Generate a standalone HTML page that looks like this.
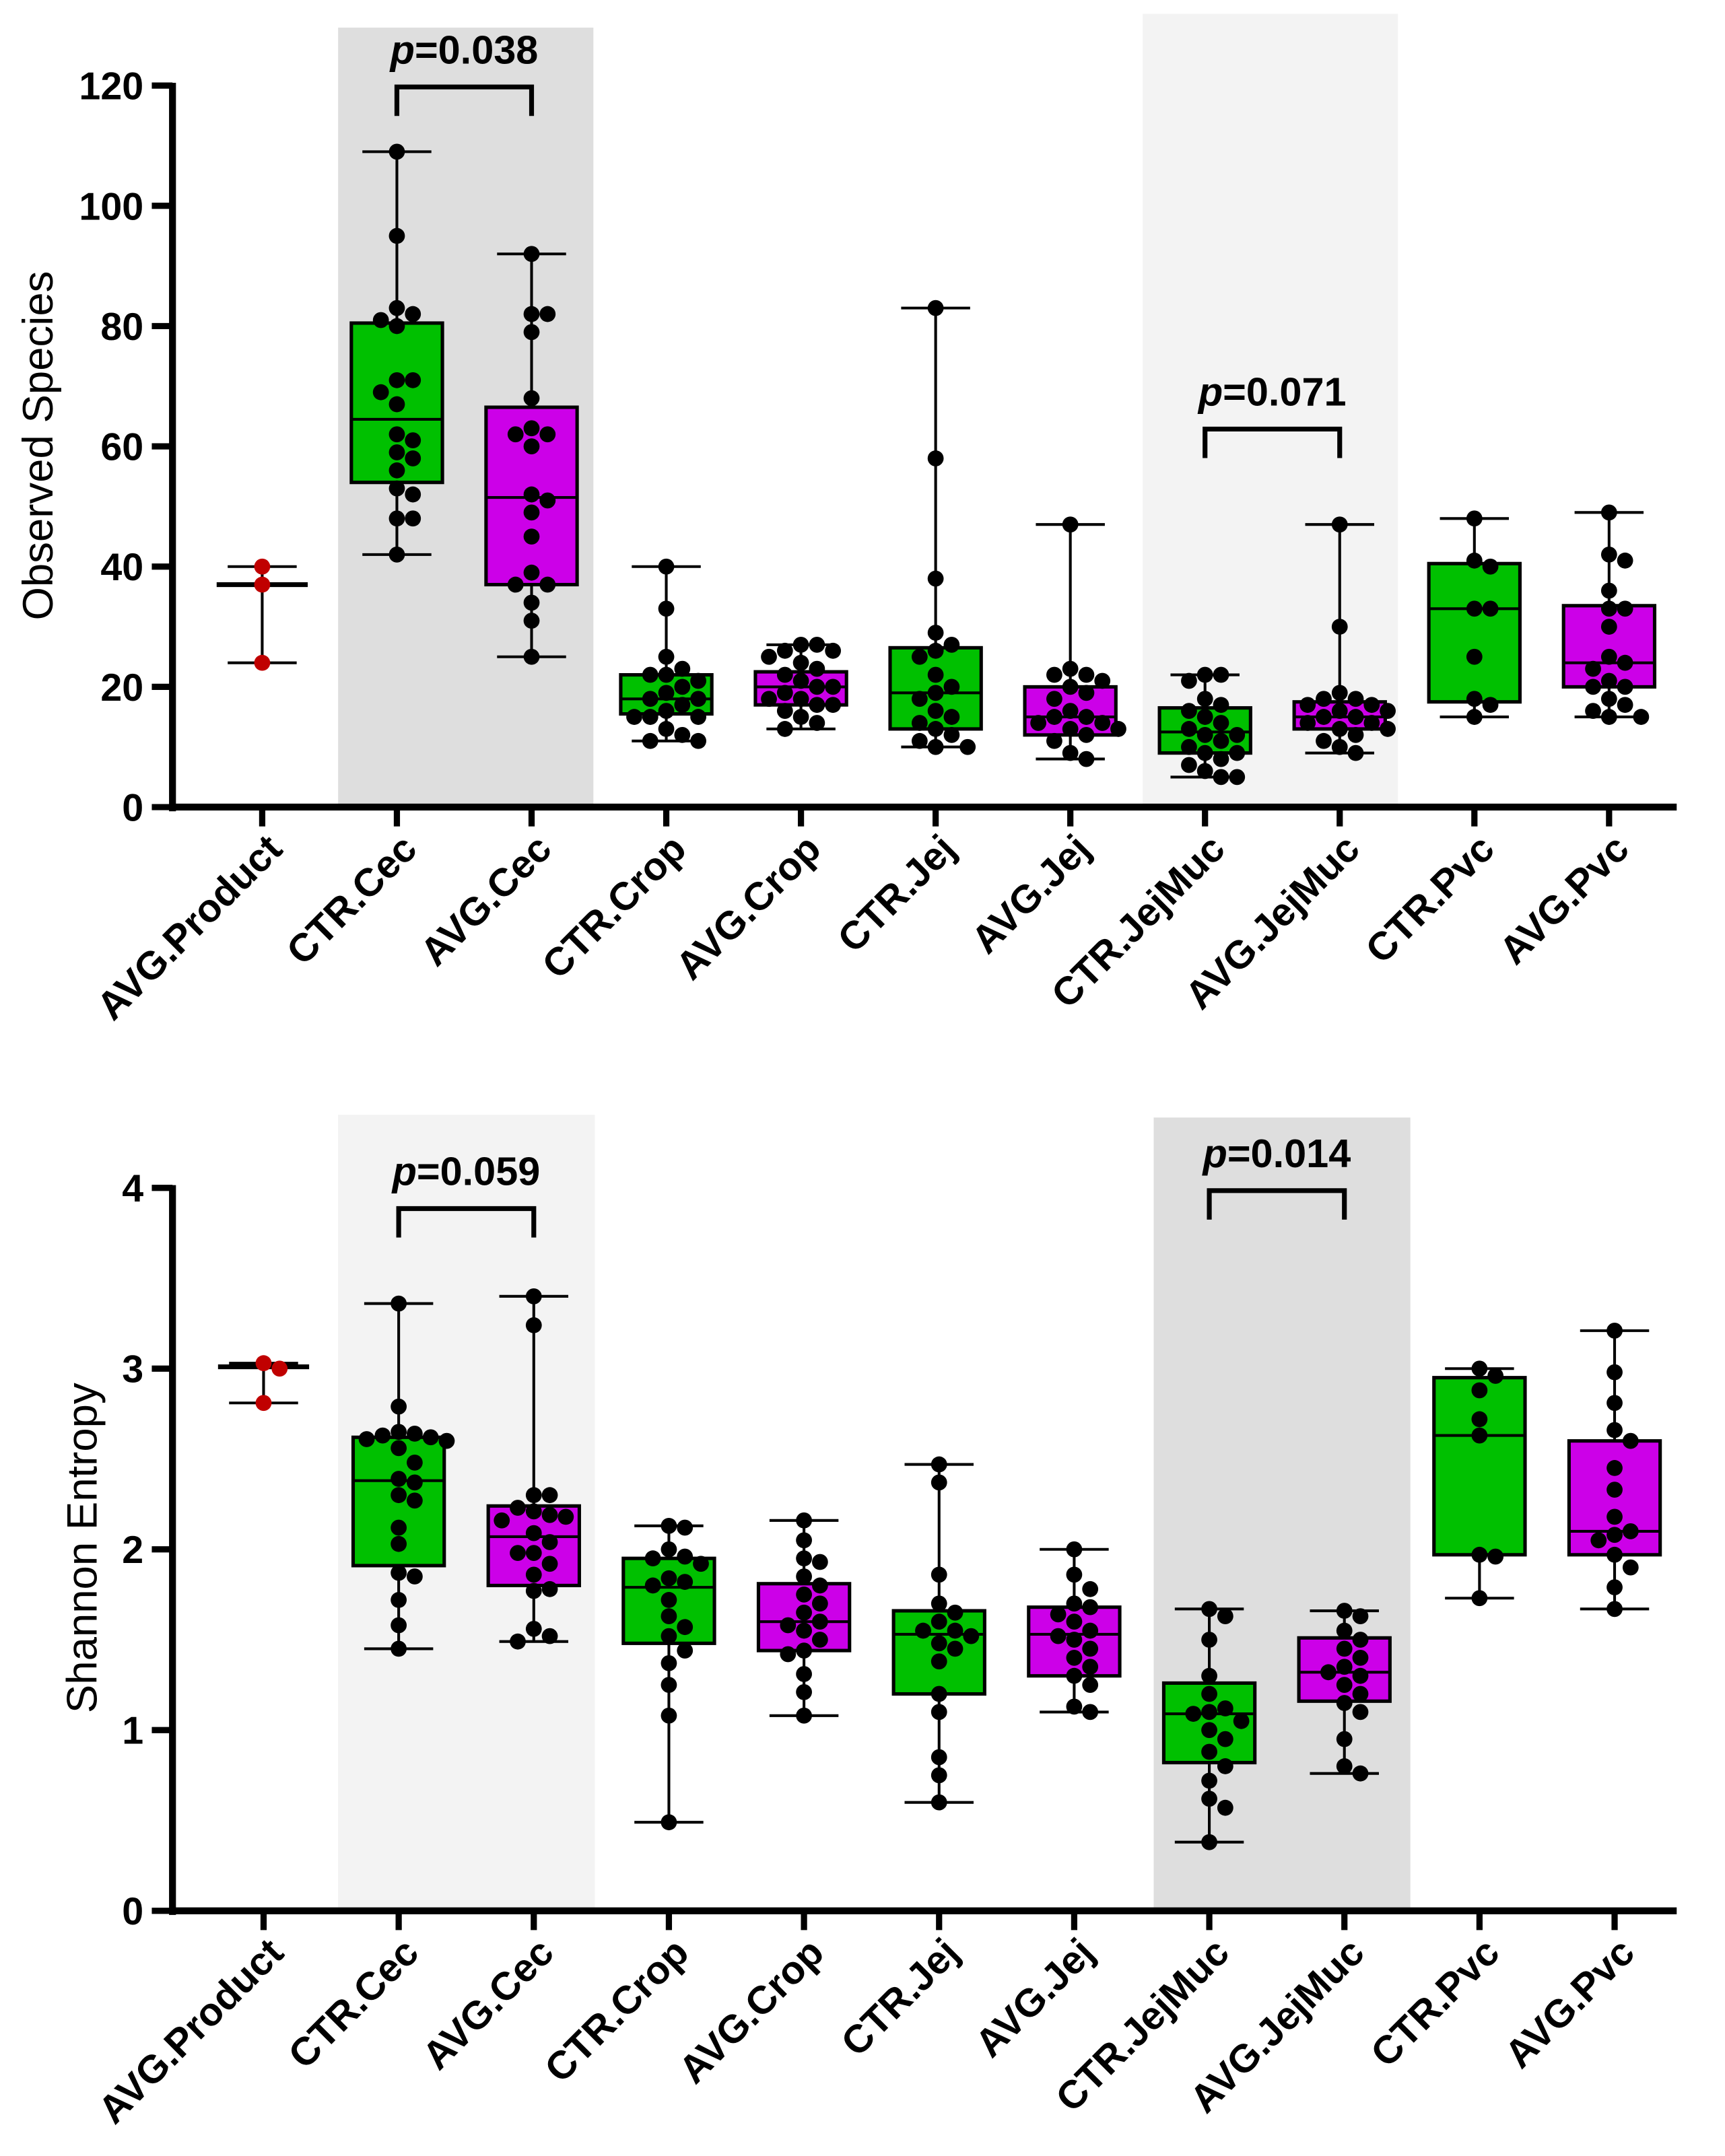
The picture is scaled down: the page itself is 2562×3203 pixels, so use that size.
<!DOCTYPE html>
<html><head><meta charset="utf-8"><style>
html,body{margin:0;padding:0;background:#fff;}
svg{display:block;font-family:"Liberation Sans",Arial,sans-serif;}
</style></head><body>
<svg id="chart" width="2562" height="3203" viewBox="0 0 1250 1562.7" xmlns="http://www.w3.org/2000/svg"></svg>
<script>
const categories = ["AVG.Product","CTR.Cec","AVG.Cec","CTR.Crop","AVG.Crop","CTR.Jej","AVG.Jej","CTR.JejMuc","AVG.JejMuc","CTR.Pvc","AVG.Pvc"];
const groupColor = ["none","#00c000","#cc00e8","#00c000","#cc00e8","#00c000","#cc00e8","#00c000","#cc00e8","#00c000","#cc00e8"];
// Observed species: [min,q1,median,q3,max]
const obsStats = [
 [24,24,37,40,40],[42,54,64.5,80.5,109],[25,37,51.5,66.5,92],[11,15.5,18,22,40],[13,17,20,22.5,27],
 [10,13,19,26.5,83],[8,12,15,20,47],[5,9,12.5,16.5,22],[9,13,15,17.5,47],[15,17.5,33,40.5,48],[15,20,24,33.5,49]];
const obsPoints = [
 [40,37,24],
 [109,95,83,82,81,80,71,71,69,67,62,61,59,58,56,53,52,48,48,42],
 [92,82,82,79,68,63,62,62,60,52,51,49,45,39,37,37,34,31,25],
 [40,33,25,23,22,22,21,20,19,18,18,17,16,15,15,15,13,12,11,11],
 [27,27,26,26,25,24,23,22,21,20,20,19,18,18,17,17,16,15,14,13],
 [83,58,38,29,27,26,25,22,20,19,18,16,15,14,13,12,11,10,10],
 [47,23,22,22,21,20,19,18,16,15,15,14,14,13,13,12,11,9,8],
 [22,22,21,18,17,16,15,14,13,12,12,11,10,9,9,8,7,6,5,5],
 [47,30,19,18,18,17,17,16,16,15,15,14,14,13,13,12,11,10,9],
 [48,41,40,33,33,25,18,17,15],
 [49,42,41,36,33,33,30,25,24,23,21,20,20,18,17,16,15,15]];
const obsTicks = [0,20,40,60,80,100,120];
// Shannon entropy
const shStats = [
 [2.81,2.81,3.01,3.03,3.03],[1.45,1.91,2.38,2.62,3.36],[1.49,1.80,2.07,2.24,3.40],[0.49,1.48,1.79,1.95,2.13],[1.08,1.44,1.60,1.81,2.16],
 [0.60,1.20,1.53,1.66,2.47],[1.10,1.30,1.53,1.68,2.00],[0.38,0.82,1.09,1.26,1.67],[0.76,1.16,1.32,1.51,1.66],[1.73,1.97,2.63,2.95,3.00],[1.67,1.97,2.10,2.60,3.21]];
const shPoints = [
 [3.03,3.0,2.81],
 [3.36,2.79,2.65,2.64,2.63,2.62,2.61,2.60,2.56,2.48,2.39,2.37,2.30,2.27,2.12,2.03,1.87,1.85,1.72,1.58,1.45],
 [3.40,3.24,2.30,2.30,2.23,2.21,2.19,2.18,2.16,2.09,2.04,1.98,1.98,1.92,1.86,1.78,1.77,1.56,1.52,1.49],
 [2.13,2.12,2.0,1.96,1.95,1.92,1.84,1.82,1.80,1.72,1.63,1.57,1.52,1.44,1.37,1.25,1.08,0.49],
 [2.16,2.05,1.95,1.93,1.85,1.80,1.75,1.70,1.65,1.60,1.58,1.55,1.50,1.44,1.42,1.31,1.21,1.08],
 [2.47,2.37,1.86,1.70,1.65,1.60,1.55,1.55,1.52,1.48,1.45,1.38,1.20,1.10,0.85,0.75,0.60],
 [2.00,1.86,1.78,1.70,1.68,1.64,1.60,1.55,1.52,1.50,1.45,1.40,1.35,1.30,1.25,1.13,1.10],
 [1.67,1.63,1.50,1.30,1.20,1.12,1.10,1.09,1.05,1.00,0.95,0.88,0.80,0.72,0.62,0.57,0.38],
 [1.66,1.63,1.55,1.50,1.45,1.40,1.35,1.32,1.30,1.25,1.20,1.15,1.10,0.95,0.80,0.76],
 [3.00,2.96,2.88,2.72,2.63,1.97,1.96,1.73],
 [3.21,2.98,2.81,2.66,2.60,2.45,2.33,2.18,2.10,2.08,2.05,1.97,1.90,1.79,1.67]];
const shTicks = [0,1,2,3,4];

const NS="http://www.w3.org/2000/svg";
const svg=document.getElementById('chart');
function el(tag,attrs,parent){const e=document.createElementNS(NS,tag);for(const k in attrs)e.setAttribute(k,attrs[k]);(parent||svg).appendChild(e);return e;}

function drawPanel(cfg){
  const g=el('g',{});
  
  
  const yS=v=>cfg.y0-(v-cfg.ymin)/(cfg.ymax-cfg.ymin)*(cfg.y0-cfg.y1);
  const xS=i=>cfg.x0+i*cfg.step;
  cfg.bands.forEach(b=>{
    const r=el('rect',{x:b[0],y:b[1],width:b[2]-b[0],height:cfg.y0-b[1],fill:b[3]},g);
    
    
  });
  cfg.stats.forEach((s,i)=>{
    const cx=xS(i), hw=33, cw=25;
    const bg=el('g',{},g);
    
    
    el('line',{x1:cx,x2:cx,y1:yS(s[0]),y2:yS(s[4]),stroke:'#000','stroke-width':2},bg);
    el('line',{x1:cx-cw,x2:cx+cw,y1:yS(s[0]),y2:yS(s[0]),stroke:'#000','stroke-width':2},bg);
    el('line',{x1:cx-cw,x2:cx+cw,y1:yS(s[4]),y2:yS(s[4]),stroke:'#000','stroke-width':2},bg);
    if(groupColor[i]!=='none'){
      el('rect',{x:cx-hw,y:yS(s[3]),width:2*hw,height:yS(s[1])-yS(s[3]),fill:groupColor[i],stroke:'#000','stroke-width':2.5},bg);
      el('line',{x1:cx-hw,x2:cx+hw,y1:yS(s[2]),y2:yS(s[2]),stroke:'#000','stroke-width':2},bg);
    } else {
      el('line',{x1:cx-33,x2:cx+33,y1:yS(s[2]),y2:yS(s[2]),stroke:'#000','stroke-width':3.5},bg);
    }
    const r=5.8, placed=[];
    cfg.points[i].forEach(v=>{
      const py=yS(v);
      let off=0;
      const cands=[0];for(let k=1;k<8;k++){cands.push(k*r*2.0,-k*r*2.0);}
      for(const c of cands){
        if(placed.every(p=>Math.hypot(p[0]-c,p[1]-py)>=2*r*0.95)){off=c;break;}
      }
      placed.push([off,py]);
      const d=el('circle',{cx:cx+off,cy:py,r:r,fill:groupColor[i]==='none'?'#c00000':'#000'},bg);
      
      
    });
  });
  const ax=el('g',{},g);
  
  
  el('line',{x1:cfg.ax,x2:cfg.ax,y1:cfg.y1-2,y2:cfg.y0+3,stroke:'#000','stroke-width':5},ax);
  cfg.ticks.forEach(t=>{
    el('line',{x1:cfg.ax-15,x2:cfg.ax,y1:yS(t),y2:yS(t),stroke:'#000','stroke-width':4.5},ax);
    const tx=el('text',{x:cfg.ax-21,y:yS(t)+10,'text-anchor':'end','font-size':28,'font-weight':'bold'},ax);
    tx.textContent=t;
    
    
  });
  const yt=el('text',{x:0,y:0,transform:`translate(${cfg.titleX},${cfg.titleY}) rotate(-90)`,'text-anchor':'middle','font-size':31},g);
  yt.textContent=cfg.title;
  
  
  const xa=el('g',{},g);
  
  
  el('line',{x1:cfg.ax-2,x2:1215,y1:cfg.y0,y2:cfg.y0,stroke:'#000','stroke-width':5},xa);
  categories.forEach((c,i)=>{
    el('line',{x1:xS(i),x2:xS(i),y1:cfg.y0,y2:cfg.y0+14,stroke:'#000','stroke-width':4.5},xa);
    const tx=el('text',{x:0,y:0,transform:`translate(${xS(i)+16},${cfg.y0+32}) rotate(-45)`,'text-anchor':'end','font-size':28.5,'font-weight':'bold'},xa);
    tx.textContent=c;
    
    
  });
  cfg.sig.forEach(sg=>{
    const sgG=el('g',{},g);
    
    
    const xa1=xS(sg.a),xb=xS(sg.b);
    el('path',{d:`M${xa1},${sg.y+21} V${sg.y} H${xb} V${sg.y+21}`,fill:'none',stroke:'#000','stroke-width':3.5},sgG);
    const t=el('text',{x:(xa1+xb)/2,y:sg.y-17,'text-anchor':'middle','font-size':29,'font-weight':'bold'},sgG);
    const ts=el('tspan',{'font-style':'italic'},t);ts.textContent='p';
    const t2=el('tspan',{},t);t2.textContent='='+sg.p;
  });
}
drawPanel({name:'observed-species-panel',x0:190,step:97.6,ax:125,y0:585,y1:62,ymin:0,ymax:120,ticks:obsTicks,stats:obsStats,points:obsPoints,
  bands:[[245,20,430,'#dedede'],[828,10,1013,'#f3f3f3']],title:'Observed Species',titleX:38,titleY:323,
  sig:[{a:1,b:2,y:63,p:'0.038'},{a:7,b:8,y:311,p:'0.071'}]});
drawPanel({name:'shannon-entropy-panel',x0:191,step:97.9,ax:125,y0:1385,y1:861,ymin:0,ymax:4,ticks:shTicks,stats:shStats,points:shPoints,
  bands:[[245,808,431,'#f3f3f3'],[836,810,1022,'#dedede']],title:'Shannon Entropy',titleX:70,titleY:1122,
  sig:[{a:1,b:2,y:876,p:'0.059'},{a:7,b:8,y:863,p:'0.014'}]});
</script>
</body></html>
